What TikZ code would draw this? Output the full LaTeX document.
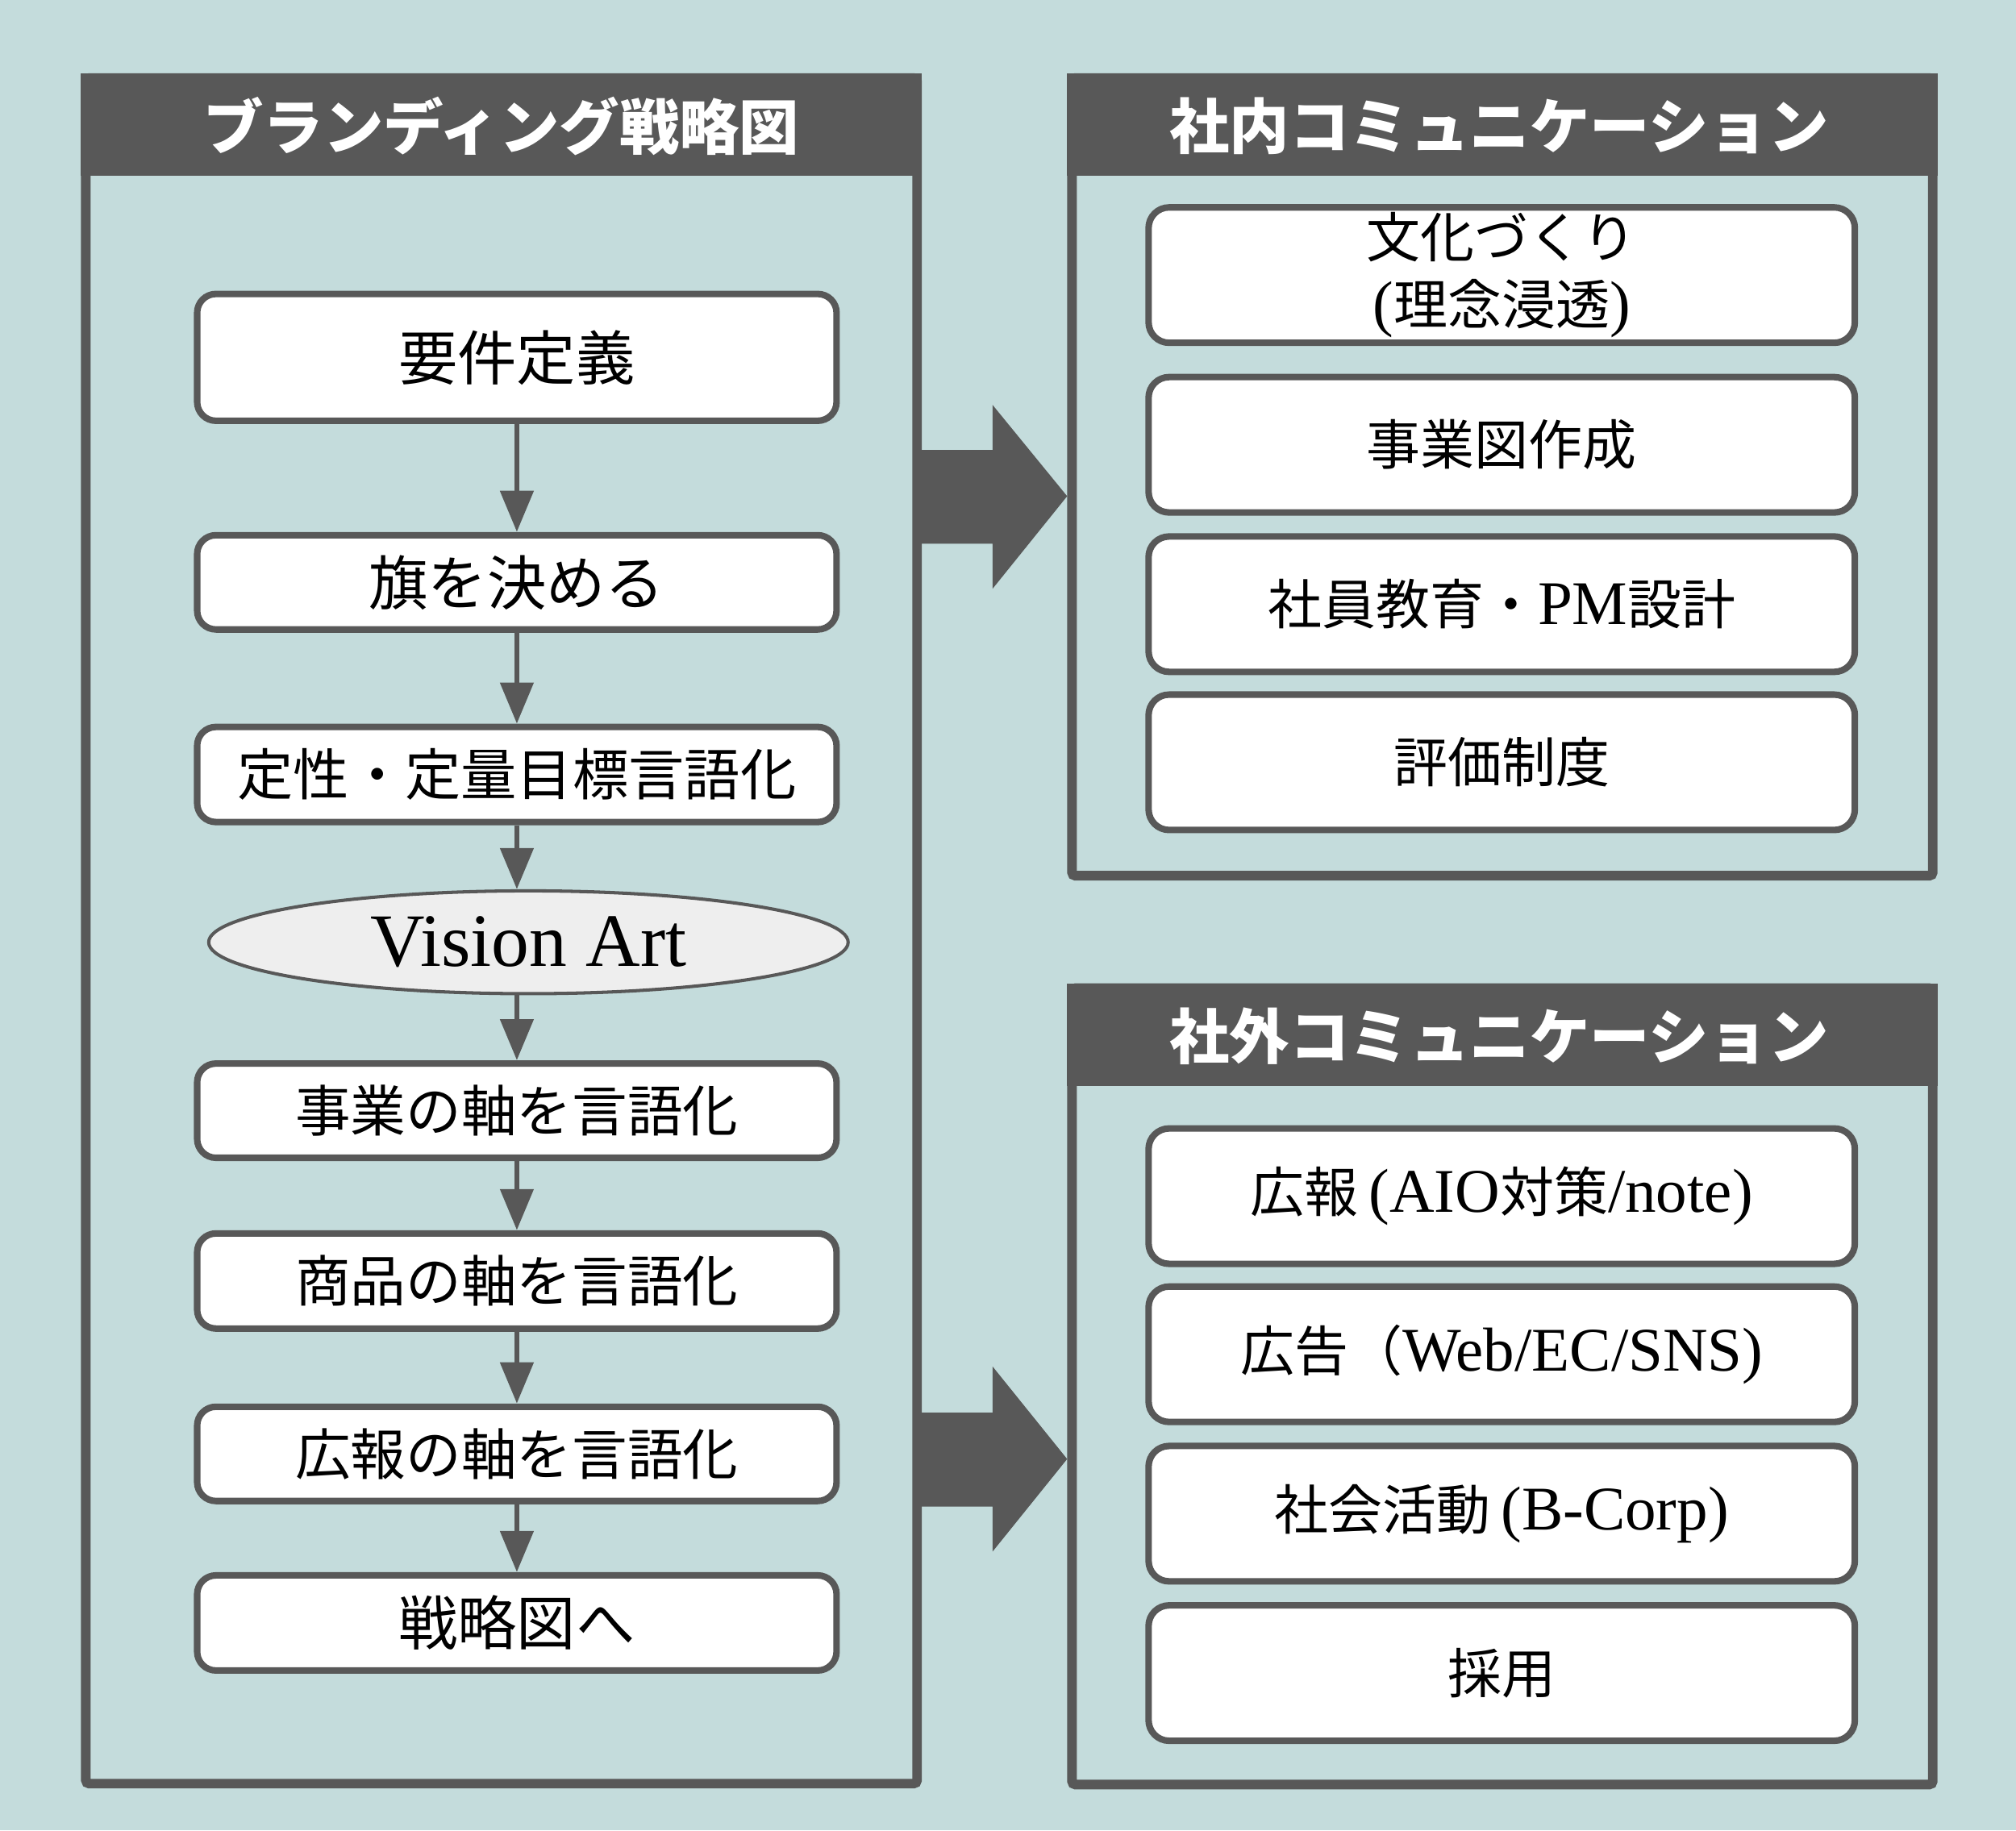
\documentclass[tikz,border=0pt]{standalone}
\usepackage{fontspec}
\setmainfont{Noto Sans CJK JP}
\newfontfamily\lat[Scale=1.15]{Liberation Serif}
\newfontfamily\latv{Liberation Serif}
\usetikzlibrary{arrows.meta,shapes.geometric}
\definecolor{bg}{RGB}{196,220,220}
\definecolor{dk}{RGB}{88,88,88}
\definecolor{ellfill}{RGB}{238,238,238}
\tikzset{
  panelframe/.style={draw=dk, line width=5.6pt, rounded corners=2pt},
  hdrfill/.style={fill=dk},
  hdr/.style={text=white, inner sep=0pt, font=\bfseries\fontsize{35}{40}\selectfont},
  lbox/.style={draw=dk, fill=white, line width=3.8pt, rounded corners=11pt,
    minimum width=373pt, inner sep=0pt, align=center},
  rbox/.style={draw=dk, fill=white, line width=3.8pt, rounded corners=12pt,
    minimum width=412pt, minimum height=79pt, inner sep=0pt, align=center,
    font=\fontsize{31.5}{39}\selectfont},
  visionell/.style={ellipse, draw=dk, fill=ellfill, line width=1.9pt,
    minimum width=373pt, minimum height=60pt, inner sep=0pt,
    font=\latv\fontsize{44}{48}\selectfont},
  conn/.style={draw=dk, line width=3.2pt, -{Triangle[length=24pt,width=19pt]}},
  bigarrow/.style={fill=dk}
}
\begin{document}
\begin{tikzpicture}[x=0.75pt,y=-0.75pt]
\fill[bg] (0,0) rectangle (1568,1424);
\useasboundingbox (0,0) rectangle (1568,1424);

% panels
\fill[hdrfill] (63,57) rectangle (717,137);
\draw[panelframe] (66.75,60.75) rectangle (713.25,1387.5);
\fill[hdrfill] (830,57) rectangle (1507,137);
\draw[panelframe] (833.75,60.75) rectangle (1503.25,681.25);
\fill[hdrfill] (830,765) rectangle (1507,845);
\draw[panelframe] (833.75,768.75) rectangle (1503.25,1388.25);

\node[hdr] (h1) at (390,98) {ブランディング戦略図};
\node[hdr] (h2) at (1166,98) {社内コミュニケーション};
\node[hdr] (h3) at (1166,806) {社外コミュニケーション};

% big arrows
\fill[bigarrow] (717,350) -- (772,350) -- (772,315) -- (830,386) -- (772,458) -- (772,423) -- (717,423) -- cycle;
\fill[bigarrow] (717,1099) -- (772,1099) -- (772,1063) -- (830,1135) -- (772,1207) -- (772,1172) -- (717,1172) -- cycle;

% left flow
\node[lbox, minimum height=74pt, font=\fontsize{34.5}{40}\selectfont] (r1) at (402,278) {要件定義};
\node[lbox, minimum height=55pt, font=\fontsize{34.5}{40}\selectfont] (r2) at (402,453) {旗を決める};
\node[lbox, minimum height=55.5pt, font=\fontsize{32.6}{40}\selectfont] (r3) at (402,602.5) {定性・定量目標言語化};
\node[visionell] (va) at (411,733) {Vision Art};
\node[lbox, minimum height=55pt, font=\fontsize{32.3}{40}\selectfont] (r4) at (402,864) {事業の軸を言語化};
\node[lbox, minimum height=55.5pt, font=\fontsize{32.3}{40}\selectfont] (r5) at (402,996.5) {商品の軸を言語化};
\node[lbox, minimum height=55pt, font=\fontsize{32.3}{40}\selectfont] (r6) at (402,1131) {広報の軸を言語化};
\node[lbox, minimum height=55.5pt, font=\fontsize{34.5}{40}\selectfont] (r7) at (402,1262.5) {戦略図へ};

\draw[conn] (r1.south) -- (r2.north);
\draw[conn] (r2.south) -- (r3.north);
\draw[conn] (r3.south) -- (r3.south |- va.north);
\draw[conn] (r4.north |- va.south) -- (r4.north);
\draw[conn] (r4.south) -- (r5.north);
\draw[conn] (r5.south) -- (r6.north);
\draw[conn] (r6.south) -- (r7.north);

% right top
\node[rbox] (t1) at (1168,214) {文化づくり\\{\lat (}理念浸透{\lat )}};
\node[rbox] (t2) at (1168,346) {事業図作成};
\node[rbox] (t3) at (1168,470) {社員教育・{\lat PM}設計};
\node[rbox] (t4) at (1168,593) {評価制度};

% right bottom
\node[rbox] (b1) at (1168,930.5) {広報{\lat\,(AIO}対策{\lat /note)}};
\node[rbox] (b2) at (1168,1053.5) {広告（{\lat Web/EC/SNS)}};
\node[rbox] (b3) at (1168,1177.5) {社会活動{\lat\,(B-Corp)}};
\node[rbox] (b4) at (1168,1301.5) {採用};
\end{tikzpicture}
\end{document}
